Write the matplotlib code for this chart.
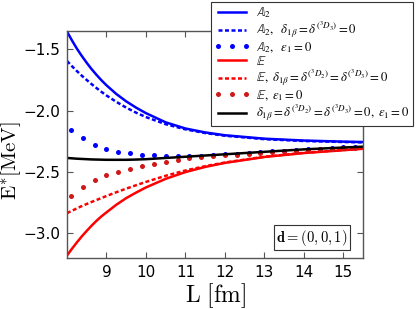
import matplotlib
matplotlib.use("Agg")
import matplotlib.pyplot as plt
from matplotlib.font_manager import FontProperties

plt.rcParams['mathtext.fontset'] = 'cm'

# ---- data ----
L_line = [8.0, 8.125, 8.25, 8.375, 8.5, 8.625, 8.75, 8.875, 9.0, 9.25, 9.5, 9.75,
          10.0, 10.5, 11.0, 11.5, 12.0, 13.0, 14.0, 15.0, 15.5]

A2_full   = [-1.355, -1.427, -1.494, -1.554, -1.610, -1.662, -1.709, -1.753, -1.793, -1.864, -1.924, -1.975,
             -2.020, -2.095, -2.145, -2.177, -2.200, -2.228, -2.243, -2.252, -2.255]
A2_delta0 = [-1.595, -1.637, -1.677, -1.715, -1.750, -1.784, -1.816, -1.847, -1.876, -1.928, -1.975, -2.016,
             -2.052, -2.110, -2.152, -2.182, -2.204, -2.232, -2.247, -2.255, -2.258]
E_full    = [-3.180, -3.125, -3.073, -3.024, -2.979, -2.936, -2.896, -2.860, -2.828, -2.766, -2.712, -2.667,
             -2.625, -2.555, -2.500, -2.458, -2.425, -2.377, -2.345, -2.322, -2.310]
E_delta0  = [-2.835, -2.815, -2.796, -2.777, -2.760, -2.743, -2.727, -2.711, -2.695, -2.664, -2.635, -2.607,
             -2.580, -2.530, -2.487, -2.452, -2.422, -2.375, -2.343, -2.320, -2.308]
all_zero  = [-2.385, -2.388, -2.391, -2.393, -2.395, -2.397, -2.398, -2.399, -2.400, -2.400, -2.400, -2.398,
             -2.395, -2.385, -2.375, -2.365, -2.355, -2.335, -2.315, -2.300, -2.293]

L_dots = [8.1, 8.4, 8.7, 9.0, 9.3, 9.6, 9.9, 10.2, 10.5, 10.8, 11.1, 11.4, 11.7,
          12.0, 12.3, 12.6, 12.9, 13.2, 13.5, 13.8, 14.1, 14.4, 14.7, 15.0, 15.3]
A2_eps0 = [-2.155, -2.225, -2.276, -2.31, -2.333, -2.347, -2.357, -2.363, -2.366, -2.368, -2.368, -2.366, -2.362,
           -2.356, -2.350, -2.344, -2.338, -2.332, -2.326, -2.320, -2.314, -2.309, -2.304, -2.299, -2.295]
E_eps0  = [-2.695, -2.62, -2.568, -2.525, -2.497, -2.473, -2.452, -2.436, -2.42, -2.40, -2.387, -2.38, -2.372,
           -2.364, -2.357, -2.350, -2.344, -2.337, -2.331, -2.325, -2.319, -2.314, -2.309, -2.304, -2.300]

labels = [r'$\mathbb{A}_2$',
          r'$\mathbb{A}_2,\ \ \delta_{1\beta}=\delta^{(^3D_3)}=0$',
          r'$\mathbb{A}_2,\ \ \epsilon_1=0$',
          r'$\mathbb{E}$',
          r'$\mathbb{E},\ \delta_{1\beta}=\delta^{(^3D_2)}=\delta^{(^3D_3)}=0$',
          r'$\mathbb{E},\ \epsilon_1=0$',
          r'$\delta_{1\beta}=\delta^{(^3D_2)}=\delta^{(^3D_3)}=0,\ \epsilon_1=0$']

xticks = [9, 10, 11, 12, 13, 14, 15]
yticks = [-3.0, -2.5, -2.0, -1.5]

# ---- figure ----
fig = plt.figure(figsize=(4.16, 3.09), dpi=100)
ax = fig.add_axes([0.161, 0.165, 0.712, 0.735])

lw = 1.8
ax.plot(L_line, A2_full, color='b', lw=lw, label=labels[0])
ax.plot(L_line, A2_delta0, color='b', lw=lw, dashes=(1.6, 1.0), label=labels[1])
ax.plot(L_dots, A2_eps0, color='b', ls='none', marker='o', ms=3.6, mew=0, label=labels[2])
ax.plot(L_line, E_full, color='r', lw=lw, label=labels[3])
ax.plot(L_line, E_delta0, color='r', lw=lw, dashes=(1.6, 1.0), label=labels[4])
ax.plot(L_dots, E_eps0, color='#d01818', ls='none', marker='o', ms=3.6, mew=0, label=labels[5])
ax.plot(L_line, all_zero, color='k', lw=lw, label=labels[6])

ax.set_xlim(8.0, 15.5)
ax.set_ylim(-3.2, -1.35)
ax.set_xticks(xticks)
ax.set_yticks(yticks)
ax.set_xticklabels([str(t) for t in xticks])
ax.set_yticklabels(['\u22123.0', '\u22122.5', '\u22122.0', '\u22121.5'])
ax.tick_params(direction='in', top=True, right=True, labelsize=11, length=4,
               color='#555555', pad=5)
for s in ax.spines.values():
    s.set_color('#555555')
    s.set_linewidth(1.0)

ax.set_xlabel(r'$\mathrm{L\ [fm]}$', fontsize=17, labelpad=1)
ax.set_ylabel(r'$\mathrm{E^{*}[MeV]}$', fontsize=15)
ax.yaxis.set_label_coords(-0.15, 0.43)

ax.text(0.828, 0.09, r'$\mathbf{d}=(0,0,1)$', transform=ax.transAxes,
        ha='center', va='center', fontsize=10.5,
        bbox=dict(boxstyle='square,pad=0.15', fc='white', ec='#333333', lw=0.8))

prop = FontProperties(size=9.2, math_fontfamily='stix')
leg = fig.legend(loc='upper right', bbox_to_anchor=(0.993, 0.994), prop=prop,
                 numpoints=3, handlelength=2.8, fancybox=False, framealpha=1,
                 edgecolor='#333333', borderaxespad=0, labelspacing=0.0,
                 handletextpad=0.5, borderpad=0.25)
leg.get_frame().set_linewidth(0.8)

fig.savefig('out.png', dpi=100)
